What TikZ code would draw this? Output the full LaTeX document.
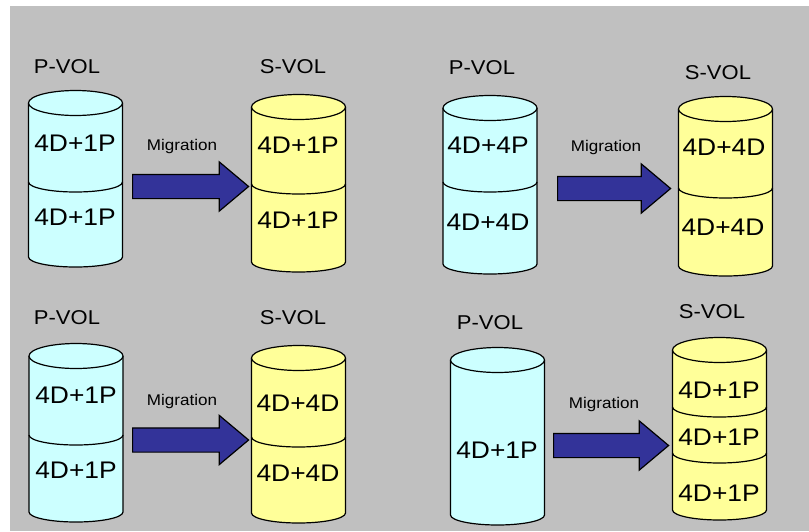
\documentclass[tikz,border=0pt]{standalone}
\usepackage{fontspec}
\setmainfont{Liberation Sans}[FakeStretch=1.1]
\usepackage{tikz}
\usetikzlibrary{shapes.arrows}

\definecolor{panel}{HTML}{C0C0C0}
\definecolor{pfill}{HTML}{CCFFFF}
\definecolor{sfill}{HTML}{FFFF99}
\definecolor{arrowblue}{HTML}{333399}

% one volume: name, centre x, top y, bottom y, fill
\newcommand{\drum}[5]{%
  \coordinate (#1) at (#2,#3);
  \fill[#5] (#2-47,#3) -- (#2-47,#4) arc (180:0:47 and 10) -- (#2+47,#3) -- cycle;
  \draw[vol] (#2-47,#3) -- (#2-47,#4) arc (180:0:47 and 10) -- (#2+47,#3);
  \draw[vol, fill=#5] (#2,#3) ellipse (47 and 12.5);
}
% seam between two stacked groups
\newcommand{\seam}[2]{%
  \draw[vol] (#1-47,#2) arc (180:0:47 and 10);
}

\begin{document}
\begin{tikzpicture}[x=1pt, y=-1pt,
  vol/.style={draw=black, line width=1.2pt},
  title/.style={font=\fontsize{20}{20}\selectfont},
  raid/.style={font=\fontsize{24}{24}\selectfont, inner sep=0pt},
  mig/.style={font=\fontsize{15.5}{15.5}\selectfont, anchor=base, inner sep=0pt},
  migr/.style={single arrow, draw=black, line width=1.2pt, fill=arrowblue,
    inner xsep=0pt, inner ysep=11.5pt, minimum width=48pt,
    single arrow head extend=12.5pt, single arrow tip angle=80, anchor=tail}]
  \useasboundingbox (0,0) rectangle (809,531);
  \fill[white] (0,0) rectangle (809,531);
  \fill[panel] (10,6) rectangle (809,531);

  % volumes
  \drum{pA}{75.5}{103}{257}{pfill}   \seam{75.5}{182}
  \drum{sA}{298.5}{107}{262}{sfill}  \seam{298.5}{184}
  \drum{pB}{490}{108}{264}{pfill}    \seam{490}{182}
  \drum{sB}{725.5}{109}{266}{sfill}  \seam{725.5}{188}
  \drum{pC}{76}{356}{512}{pfill}     \seam{76}{435}
  \drum{sC}{298.5}{358}{513}{sfill}  \seam{298.5}{437}
  \drum{pD}{497.5}{360}{515}{pfill}
  \drum{sD}{719.5}{350}{510}{sfill}  \seam{719.5}{407} \seam{719.5}{453}

  % labels
  \node[title] (tpA) at (67,67) {P-VOL};
  \node[title] (tsA) at (293,67) {S-VOL};
  \node[title] (tpB) at (482,68) {P-VOL};
  \node[title] (tsB) at (718,73) {S-VOL};
  \node[title] (tpC) at (67,318) {P-VOL};
  \node[title] (tsC) at (293,318) {S-VOL};
  \node[title] (tpD) at (490,323) {P-VOL};
  \node[title] (tsD) at (712,312) {S-VOL};

  \node[raid] (pA1) at (75,143) {4D+1P};
  \node[raid] (pA2) at (75,217) {4D+1P};
  \node[raid] (sA1) at (298,145) {4D+1P};
  \node[raid] (sA2) at (298,220) {4D+1P};
  \node[raid] (pB1) at (488,145) {4D+4P};
  \node[raid] (pB2) at (488,222) {4D+4D};
  \node[raid] (sB1) at (724,147) {4D+4D};
  \node[raid] (sB2) at (723,227) {4D+4D};
  \node[raid] (pC1) at (76,395) {4D+1P};
  \node[raid] (pC2) at (76,470) {4D+1P};
  \node[raid] (sC1) at (298,403) {4D+4D};
  \node[raid] (sC2) at (298,473) {4D+4D};
  \node[raid] (pD1) at (497,450) {4D+1P};
  \node[raid] (sD1) at (719,390) {4D+1P};
  \node[raid] (sD2) at (719,437) {4D+1P};
  \node[raid] (sD3) at (719,493) {4D+1P};

  % migration arrows
  \node[migr, minimum height=116pt] (mA) at (132,186.5) {};
  \node[migr, minimum height=113pt] (mB) at (557,188.5) {};
  \node[migr, minimum height=116pt] (mC) at (132,440) {};
  \node[migr, minimum height=115pt] (mD) at (553,445.5) {};

  \node[mig] (lA) at (182,150) {Migration};
  \node[mig] (lB) at (606,151) {Migration};
  \node[mig] (lC) at (182,405) {Migration};
  \node[mig] (lD) at (604,408) {Migration};
\end{tikzpicture}
\end{document}
